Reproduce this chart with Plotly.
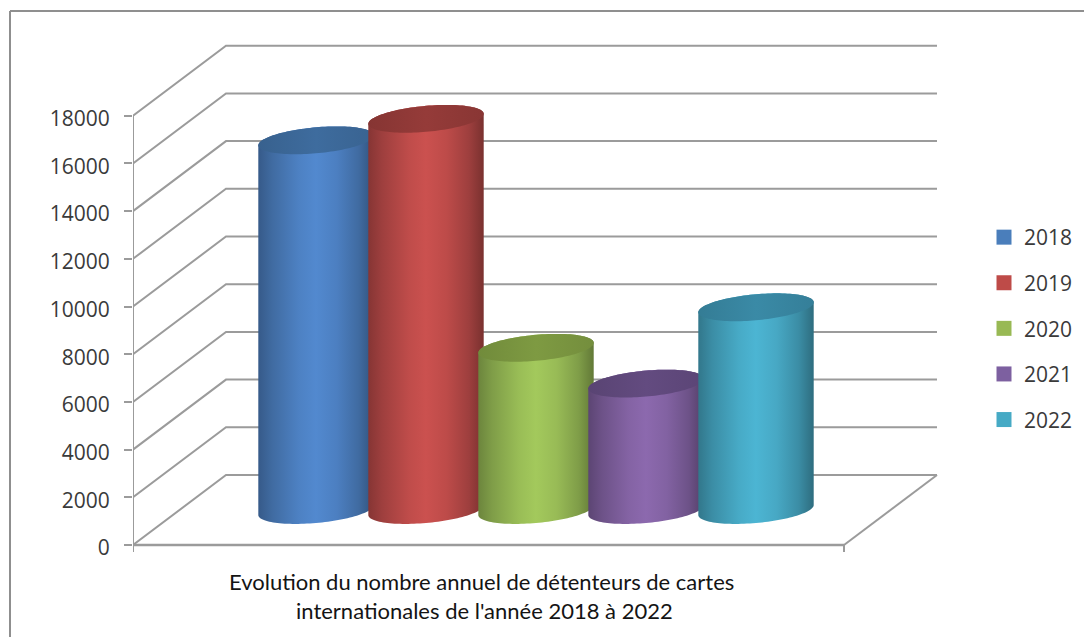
import numpy as np
import plotly.graph_objects as go

# Chart content
years = ["2018", "2019", "2020", "2021", "2022"]
holders = [15500, 16400, 6800, 5300, 8500]
tick_values = [0, 2000, 4000, 6000, 8000, 10000, 12000, 14000, 16000, 18000]
title_lines = [
    "Evolution du nombre annuel de détenteurs de cartes",
    "internationales de l'année 2018 à 2022",
]

# Series colours: lit side of the body, top cap, legend swatch
body_colors = ["#5289cf", "#cb514f", "#a3c95c", "#8c69ae", "#4cb5d3"]
cap_colors = ["#3e6c9e", "#953b39", "#7e9a42", "#634b80", "#3a8aa6"]
swatch_colors = ["#4a7ebb", "#be4b48", "#98b954", "#7d60a0", "#46aac5"]

GRID = "#9b9b9b"
TEXT = "#3a3a3a"

# Page layout in pixels
W, H = 1084, 637
LEFT, TOP, BOTTOM = 133, 40, 552
ZERO_Y = 545
PX_PER_SLOT = 110.0
PX_PER_VALUE = 0.02385
PLOT_W, PLOT_H = W - LEFT, BOTTOM - TOP


def x_units(px):
    return px / PX_PER_SLOT


def y_units(px):
    return px / PX_PER_VALUE


def paper_x(px):
    return (px - LEFT) / PLOT_W


def paper_y(px):
    return (BOTTOM - px) / PLOT_H


# Oblique projection of the box that holds the columns
FLOOR_W = x_units(711)
DEPTH_X = x_units(93)
DEPTH_Y = y_units(70)

# Column geometry, in axis units
FIRST_CENTER = x_units(316 - LEFT)
RADIUS_X = x_units(57.7)
RADIUS_Y = y_units(13)
TILT = y_units(5)
COLUMN_BASE = y_units(35)


def ellipse(cx, cy, theta):
    return cx + RADIUS_X * np.cos(theta), cy + TILT * np.cos(theta) + RADIUS_Y * np.sin(theta)


def shade(hex_color, factor):
    r, g, b = (int(hex_color[i:i + 2], 16) for i in (1, 3, 5))
    return f"rgb({r * factor:.0f},{g * factor:.0f},{b * factor:.0f})"


fig = go.Figure()

# Walls and floor of the box
wall_x, wall_y = [], []
for v in tick_values:
    wall_x += [0, DEPTH_X, FLOOR_W + DEPTH_X, None]
    wall_y += [v, v + DEPTH_Y, v + DEPTH_Y, None]
wall_x += [0, 0, None, FLOOR_W, FLOOR_W + DEPTH_X, None, FLOOR_W, FLOOR_W]
wall_y += [-y_units(7), tick_values[-1], None, 0, DEPTH_Y, None, 0, -y_units(7)]
fig.add_trace(go.Scatter(x=wall_x, y=wall_y, mode="lines", cliponaxis=False,
                         line=dict(color=GRID, width=2), showlegend=False, hoverinfo="skip"))
fig.add_trace(go.Scatter(x=[0, FLOOR_W], y=[0, 0], mode="lines", cliponaxis=False,
                         line=dict(color=GRID, width=2.6), showlegend=False, hoverinfo="skip"))

# Cylinders, drawn left to right so each one overlaps the previous
body_profile = [(0, .66), (.12, .78), (.35, .94), (.5, 1.0), (.68, .93), (.87, .78), (1, .60)]
cap_profile = [(0, .90), (.5, 1.0), (1, .92)]
for i, (year, value) in enumerate(zip(years, holders)):
    cx = FIRST_CENTER + i
    top = COLUMN_BASE + value

    bx, by = ellipse(cx, COLUMN_BASE, np.linspace(np.pi, 2 * np.pi, 61))
    tx, ty = ellipse(cx, top, np.linspace(0, np.pi, 61))
    fig.add_trace(go.Scatter(
        x=np.concatenate([bx, tx]), y=np.concatenate([by, ty]), name=year,
        mode="none", fill="toself", showlegend=False, hoverinfo="skip",
        fillgradient=dict(type="horizontal",
                          colorscale=[[p, shade(body_colors[i], f)] for p, f in body_profile]),
    ))

    cap_x, cap_y = ellipse(cx, top, np.linspace(0, 2 * np.pi, 121))
    fig.add_trace(go.Scatter(
        x=cap_x, y=cap_y, name=year, mode="none", fill="toself",
        showlegend=False, hoverinfo="skip",
        fillgradient=dict(type="horizontal",
                          colorscale=[[p, shade(cap_colors[i], f)] for p, f in cap_profile]),
    ))

# Legend entries
for i, year in enumerate(years):
    fig.add_trace(go.Scatter(
        x=[None], y=[None], name=year, legendgroup=year, mode="markers",
        marker=dict(symbol="square", size=15, color=swatch_colors[i]),
    ))

# Two-line caption under the floor
for line, px, py in zip(title_lines, [481, 484], [581, 610]):
    fig.add_annotation(x=paper_x(px), y=paper_y(py), text=line, xref="paper", yref="paper",
                       showarrow=False, xanchor="center", yanchor="middle",
                       font=dict(family="Lato", size=22, color="#141414"))

# Chart frame: only its top and left edges fall inside the page
for x0, y0, x1, y1 in [(10, 11, W + 5, 11), (10, 11, 10, H + 5)]:
    fig.add_shape(type="line", xref="paper", yref="paper",
                  x0=paper_x(x0), y0=paper_y(y0), x1=paper_x(x1), y1=paper_y(y1),
                  line=dict(color="#8f8f8f", width=2), layer="below")

fig.update_layout(
    width=W, height=H, autosize=False,
    margin=dict(l=LEFT, r=0, t=TOP, b=H - BOTTOM),
    paper_bgcolor="white", plot_bgcolor="white",
    showlegend=True,
    legend=dict(xref="paper", yref="paper", x=paper_x(984), y=paper_y(217),
                xanchor="left", yanchor="top",
                tracegroupgap=15.3, font=dict(family="Open Sans", size=21, color=TEXT),
                bgcolor="rgba(0,0,0,0)", itemclick=False, itemdoubleclick=False),
    xaxis=dict(visible=False, range=[0, x_units(PLOT_W)], fixedrange=True),
    yaxis=dict(range=[y_units(ZERO_Y - BOTTOM), y_units(ZERO_Y - TOP)], fixedrange=True,
               tickmode="array", tickvals=tick_values, ticktext=[str(v) for v in tick_values],
               ticks="outside", ticklen=8, tickwidth=2, tickcolor=GRID, ticklabelstandoff=10,
               ticklabelshift=3,
               showgrid=False, zeroline=False, showline=False,
               tickfont=dict(family="Open Sans", size=21, color=TEXT)),
)

fig.write_html("out.html", config=dict(displayModeBar=False))
